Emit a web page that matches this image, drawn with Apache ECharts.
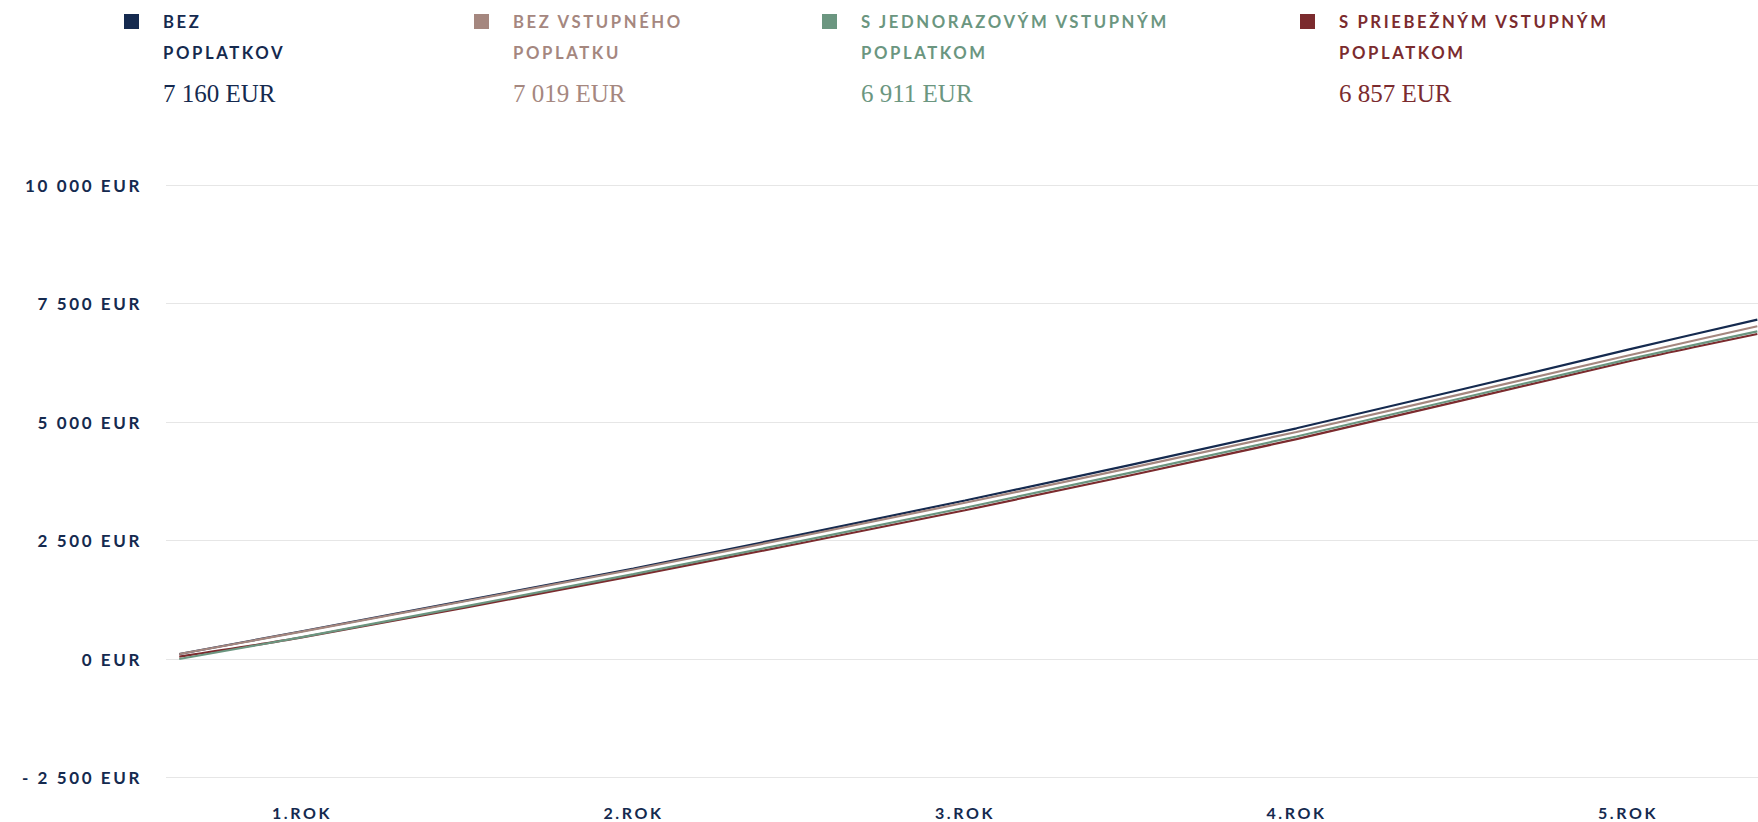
<!DOCTYPE html>
<html><head><meta charset="utf-8">
<script src="https://cdn.jsdelivr.net/npm/echarts@6/dist/echarts.min.js"></script>
<style>
html,body{margin:0;padding:0;background:#fff;overflow:hidden;}
#c{width:1758px;height:822px;}
#c text{letter-spacing:2.6px;}
#c text[style*="Serif"], #c text[font-family*="Serif"]{letter-spacing:0;}
</style></head><body><div id="c"></div>
<script>
// ---- data ----
const years = [0.63, 1, 2, 3, 4, 5, 5.39];
const yearTicks = [1, 2, 3, 4, 5];
const seriesLabels = ['BEZ\nPOPLATKOV', 'BEZ VSTUPNÉHO\nPOPLATKU', 'S JEDNORAZOVÝM VSTUPNÝM\nPOPLATKOM', 'S PRIEBEŽNÝM VSTUPNÝM\nPOPLATKOM'];
const noFees       = [105, 586, 1910, 3344, 4867, 6526, 7160];
const noEntryFee   = [105, 578, 1889, 3296, 4790, 6404, 7019];
const oneTimeFee   = [0,   462, 1791, 3190, 4695, 6322, 6911];
const ongoingFee   = [50,  455, 1753, 3138, 4638, 6277, 6857];
const finalValues  = [7160, 7019, 6911, 6857];

// ---- styles / layout ----
const colors = ['#152a4f', '#a5877f', '#6b9680', '#7b2b2e'];
const zOrder = [2, 3, 5, 4];
const legendX = [124, 474, 822, 1300];
const allSeries = [noFees, noEntryFee, oneTimeFee, ongoingFee];

function fmt(v){
  const s = Math.abs(v).toString().replace(/\B(?=(\d{3})+(?!\d))/g, ' ');
  return (v < 0 ? '- ' : '') + s + ' EUR';
}

const graphic = [];
seriesLabels.forEach((lab, i) => {
  graphic.push({type:'rect', x: legendX[i], y: 14, shape:{x:0, y:0, width:15, height:15}, style:{fill: colors[i]}});
  graphic.push({type:'text', x: legendX[i] + 39, y: 6.5, style:{text: lab, fill: colors[i], font: 'bold 16.7px Lato', lineHeight: 31, verticalAlign: 'top', align: 'left'}});
  graphic.push({type:'text', x: legendX[i] + 39, y: 93, style:{text: fmt(finalValues[i]), fill: colors[i], font: '25px "Liberation Serif"', verticalAlign: 'middle', align: 'left'}});
});

const chart = echarts.init(document.getElementById('c'), null, {renderer: 'svg'});
chart.setOption({
  animation: false,
  backgroundColor: '#fff',
  graphic: graphic,
  grid: {left: 166, right: -12, top: 185, bottom: 44.5},
  xAxis: {
    type: 'value', min: 0.59, max: 5.392,
    axisLine: {show: false}, axisTick: {show: false}, splitLine: {show: false},
    axisLabel: {customValues: yearTicks, formatter: v => v + '.ROK', color: '#152a4f',
      fontFamily: 'Lato', fontWeight: 'bold', fontSize: 16, margin: 27}
  },
  yAxis: {
    type: 'value', min: -2500, max: 10000, interval: 2500,
    axisLine: {show: false}, axisTick: {show: false},
    splitLine: {lineStyle: {color: '#e6e6e6', width: 1}},
    axisLabel: {formatter: fmt, color: '#152a4f', fontFamily: 'Lato', fontWeight: 'bold', fontSize: 17, margin: 24}
  },
  series: allSeries.map((arr, i) => ({
    type: 'line', name: seriesLabels[i], z: zOrder[i],
    data: years.map((y, k) => [y, arr[k]]),
    showSymbol: false, smooth: 0.25,
    lineStyle: {color: colors[i], width: 2.2},
    itemStyle: {color: colors[i]}
  }))
});
</script></body></html>
